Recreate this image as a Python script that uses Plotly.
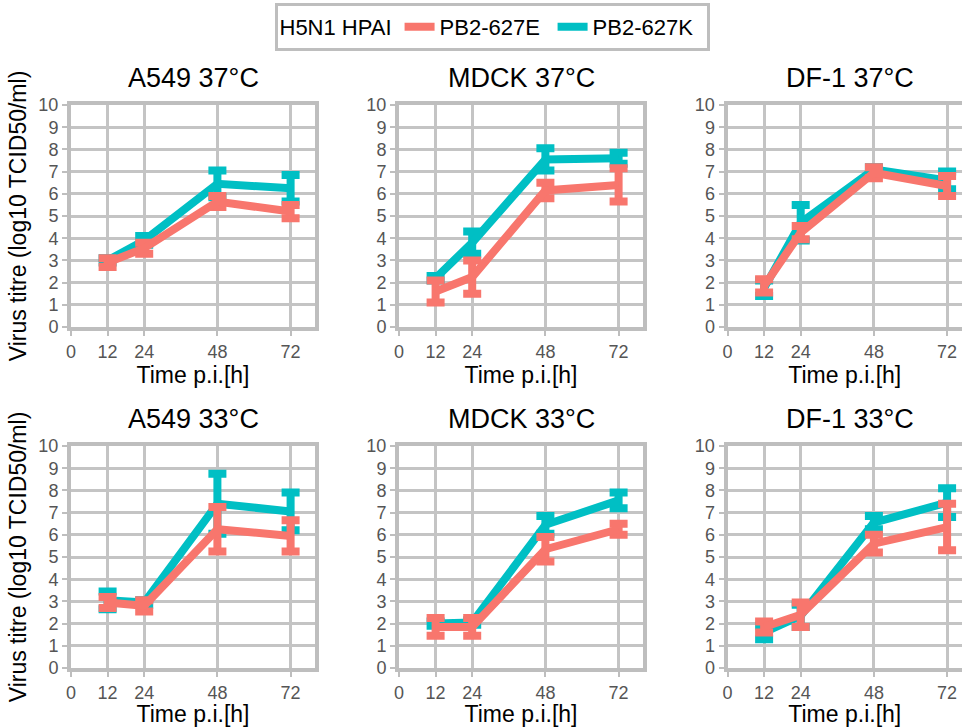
import plotly.graph_objects as go

# ---------------- data ----------------
times = [12, 24, 48, 72]
x_ticks = [0, 12, 24, 48, 72]
y_ticks = list(range(0, 11))
panel_titles = ["A549 37°C", "MDCK 37°C", "DF-1 37°C", "A549 33°C", "MDCK 33°C", "DF-1 33°C"]
series_names = ["PB2-627E", "PB2-627K"]
legend_title = "H5N1 HPAI"
x_title = "Time p.i.[h]"
y_title = "Virus titre (log10 TCID50/ml)"

a549_37_E = [2.9, 3.55, 5.65, 5.2]
a549_37_E_err = [0.2, 0.25, 0.25, 0.3]
a549_37_K = [3.0, 3.9, 6.45, 6.25]
a549_37_K_err = [0.1, 0.2, 0.6, 0.6]

mdck_37_E = [1.6, 2.25, 6.15, 6.4]
mdck_37_E_err = [0.5, 0.75, 0.35, 0.75]
mdck_37_K = [2.2, 3.8, 7.55, 7.6]
mdck_37_K_err = [0.1, 0.5, 0.5, 0.25]

df1_37_E = [1.85, 4.25, 6.95, 6.35]
df1_37_E_err = [0.3, 0.3, 0.25, 0.45]
df1_37_K = [1.75, 4.7, 7.1, 6.6]
df1_37_K_err = [0.35, 0.8, 0.1, 0.4]

a549_33_E = [2.95, 2.8, 6.25, 5.95]
a549_33_E_err = [0.25, 0.25, 1.0, 0.7]
a549_33_K = [3.05, 2.95, 7.4, 7.05]
a549_33_K_err = [0.4, 0.1, 1.35, 0.85]

mdck_33_E = [1.85, 1.85, 5.35, 6.25]
mdck_33_E_err = [0.4, 0.4, 0.55, 0.25]
mdck_33_K = [2.0, 2.05, 6.45, 7.55]
mdck_33_K_err = [0.1, 0.1, 0.4, 0.35]

df1_33_E = [1.85, 2.4, 5.6, 6.35]
df1_33_E_err = [0.25, 0.55, 0.4, 1.05]
df1_33_K = [1.6, 2.35, 6.55, 7.45]
df1_33_K_err = [0.3, 0.5, 0.3, 0.65]

panels_E = [(a549_37_E, a549_37_E_err), (mdck_37_E, mdck_37_E_err), (df1_37_E, df1_37_E_err),
            (a549_33_E, a549_33_E_err), (mdck_33_E, mdck_33_E_err), (df1_33_E, df1_33_E_err)]
panels_K = [(a549_37_K, a549_37_K_err), (mdck_37_K, mdck_37_K_err), (df1_37_K, df1_37_K_err),
            (a549_33_K, a549_33_K_err), (mdck_33_K, mdck_33_K_err), (df1_33_K, df1_33_K_err)]

# ---------------- style / layout ----------------
W, H = 962, 727
X_MAX = 80
COL_E = "#F8766D"
COL_K = "#00BFC4"
GRID = "#c4c4c4"
BORDER = "#bebebe"
TICKCOL = "#555555"
FONT = "Liberation Sans, Arial, sans-serif"

# full panel extents in pixels (the third column runs past the right page edge)
cols_px = [(71, 315), (399, 643), (727.5, 971.5)]
rows_px = [(105, 327), (446, 668)]


def px_x(v):
    return v / W


def px_y(v):
    return 1 - v / H


fig = go.Figure()
layout = {}
annotations = []

for i in range(6):
    r, c = divmod(i, 3)
    n = i + 1
    xa = "x" if n == 1 else f"x{n}"
    ya = "y" if n == 1 else f"y{n}"
    (vK, vKerr) = panels_K[i]
    (vE, vEerr) = panels_E[i]
    fig.add_trace(go.Scatter(
        x=times, y=vK, mode="lines", name=series_names[1],
        line=dict(color=COL_K, width=8),
        error_y=dict(type="data", array=vKerr, color=COL_K, thickness=8, width=9),
        xaxis=xa, yaxis=ya, showlegend=(i == 0), legendgroup="K", legendrank=2,
    ))
    fig.add_trace(go.Scatter(
        x=times, y=vE, mode="lines", name=series_names[0],
        line=dict(color=COL_E, width=8),
        error_y=dict(type="data", array=vEerr, color=COL_E, thickness=8, width=9),
        xaxis=xa, yaxis=ya, showlegend=(i == 0), legendgroup="E", legendrank=1,
    ))
    x0, x1 = cols_px[c]
    y0, y1 = rows_px[r]
    x1_vis = min(x1, W)
    x_hi = X_MAX * (x1_vis - x0) / (x1 - x0)
    clipped = x1 > W
    xkey = "xaxis" if n == 1 else f"xaxis{n}"
    ykey = "yaxis" if n == 1 else f"yaxis{n}"
    layout[xkey] = dict(
        domain=[px_x(x0), px_x(x1_vis)], anchor=ya, range=[0, x_hi],
        tickmode="array", tickvals=x_ticks, ticktext=[str(t) for t in x_ticks],
        showgrid=True, gridcolor=GRID, gridwidth=2.5, zeroline=False,
        showline=True, linecolor=BORDER, linewidth=4, mirror=True,
        ticks="outside", ticklen=5, tickwidth=2, tickcolor=BORDER,
        tickfont=dict(size=18, color=TICKCOL, family=FONT),
        title=dict(text=x_title, font=dict(size=23, color="black", family=FONT), standoff=4),
        automargin=False, fixedrange=True,
    )
    layout[ykey] = dict(
        domain=[px_y(y1), px_y(y0)], anchor=xa, range=[0, 10],
        tickmode="array", tickvals=y_ticks,
        showgrid=True, gridcolor=GRID, gridwidth=2.5, zeroline=False,
        showline=True, linecolor=BORDER, linewidth=4, mirror=(not clipped),
        ticks="outside", ticklen=5, tickwidth=2, tickcolor=BORDER,
        tickfont=dict(size=18, color=TICKCOL, family=FONT),
        title=dict(text=y_title if c == 0 else "", font=dict(size=23, color="black", family=FONT), standoff=6),
        automargin=False, fixedrange=True,
    )
    annotations.append(dict(
        text=panel_titles[i], xref="paper", yref="paper",
        x=px_x((x0 + x1) / 2), y=px_y(y0 - 10), xanchor="center", yanchor="bottom",
        showarrow=False, font=dict(size=27, color="black", family=FONT),
    ))

fig.update_layout(
    width=W, height=H, autosize=False,
    margin=dict(l=0, r=0, t=0, b=0, autoexpand=False),
    paper_bgcolor="white", plot_bgcolor="white",
    font=dict(family=FONT, color="black"),
    annotations=annotations,
    legend=dict(
        orientation="h", x=px_x(492), xanchor="center", y=px_y(3), yanchor="top",
        title=dict(text=legend_title, font=dict(size=22, color="black", family=FONT), side="left"),
        font=dict(size=22, color="black", family=FONT),
        bordercolor=BORDER, borderwidth=3, bgcolor="white",
        traceorder="normal", entrywidth=108,
    ),
    **layout,
)

fig.write_html(
    "out.html",
    config={"displayModeBar": False},
    post_script="document.body.style.margin='0';document.body.style.overflow='hidden';",
)
